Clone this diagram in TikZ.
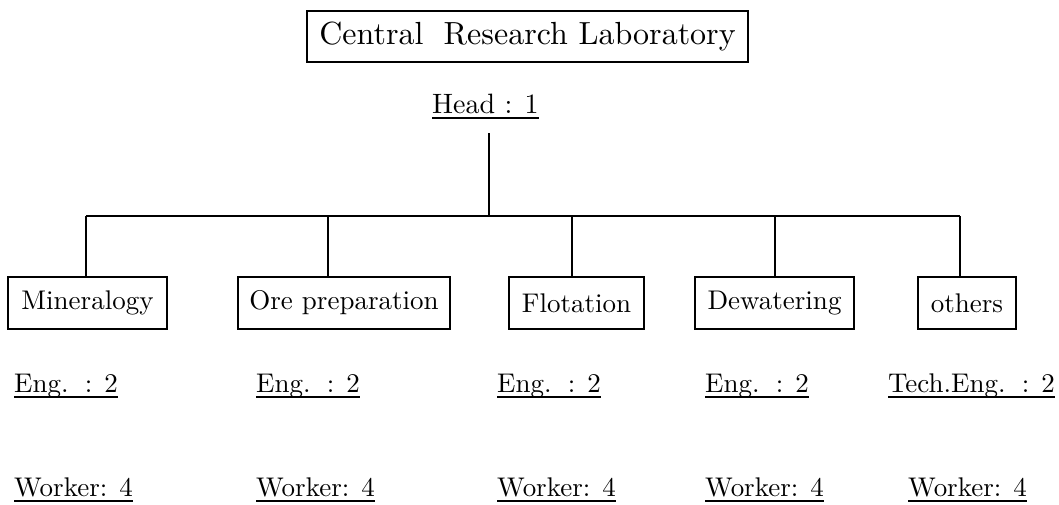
\documentclass[tikz,border=0pt]{standalone}
\usepackage{fontspec}
\setmainfont{lmroman10-regular.otf}
\tikzset{
  ln/.style={line width=1.6pt},
  boxnode/.style={draw, line width=1.6pt, inner sep=0pt, font=\fontsize{27pt}{30pt}\selectfont},
  lbl/.style={anchor=base west, inner sep=0pt, font=\fontsize{27pt}{30pt}\selectfont},
  ul/.style={line width=1.4pt}
}
\newcommand{\gapsp}{\hspace{0.6em}}
\begin{document}
\begin{tikzpicture}[x=1pt,y=-1pt]
\useasboundingbox (0,0) rectangle (1059,504);
% title
\node[boxnode, minimum width=441pt, minimum height=51pt, font=\fontsize{32pt}{36pt}\selectfont] (crl) at (527.5,36.5) {Central\hspace{0.3em} Research Laboratory};
% head
\node[lbl, font=\fontsize{28pt}{32pt}\selectfont] (head) at (432,113) {Head : 1};
\draw[ul] ([yshift=-5pt]head.base west) -- ([yshift=-5pt]head.base east);
% trunk and bar
\coordinate (top) at (489,133);
\coordinate (mid) at (489,216);
\coordinate (c1) at (86,216);
\coordinate (c2) at (328,216);
\coordinate (c3) at (572,216);
\coordinate (c4) at (775,216);
\coordinate (c5) at (960,216);
\draw[ln] (top) -- (mid);
\draw[ln] (c1) -- (c5);
% boxes
\node[boxnode, minimum width=159pt, minimum height=52pt] (b1) at (87.5,303) {Mineralogy};
\node[boxnode, minimum width=212pt, minimum height=52pt] (b2) at (344,303) {Ore preparation};
\node[boxnode, minimum width=135pt, minimum height=52pt] (b3) at (576.5,303) {Flotation};
\node[boxnode, minimum width=159pt, minimum height=52pt] (b4) at (774.5,303) {Dewatering};
\node[boxnode, minimum width=98pt, minimum height=52pt] (b5) at (967,303) {others};
\draw[ln] (c1) -- (c1 |- b1.north);
\draw[ln] (c2) -- (c2 |- b2.north);
\draw[ln] (c3) -- (c3 |- b3.north);
\draw[ln] (c4) -- (c4 |- b4.north);
\draw[ln] (c5) -- (c5 |- b5.north);
% engineer labels
\node[lbl] (e1) at (14,392) {Eng.\gapsp: 2};
\node[lbl] (e2) at (256,392) {Eng.\gapsp: 2};
\node[lbl] (e3) at (497,392) {Eng.\gapsp: 2};
\node[lbl] (e4) at (705,392) {Eng.\gapsp: 2};
\node[lbl] (e5) at (888,392) {Tech.Eng.\gapsp: 2};
% worker labels
\node[lbl] (w1) at (14,496) {Worker: 4};
\node[lbl] (w2) at (256,496) {Worker: 4};
\node[lbl] (w3) at (497,496) {Worker: 4};
\node[lbl] (w4) at (705,496) {Worker: 4};
\node[lbl] (w5) at (908,496) {Worker: 4};
\foreach \n in {e1,e2,e3,e4,e5}{
  \draw[ul] ([yshift=-5pt]\n.base west) -- ([yshift=-5pt]\n.base east);
}
\foreach \n in {w1,w2,w3,w4,w5}{
  \draw[ul] ([yshift=-5pt]\n.base west) -- ([yshift=-5pt]\n.base east);
}
\end{tikzpicture}
\end{document}
